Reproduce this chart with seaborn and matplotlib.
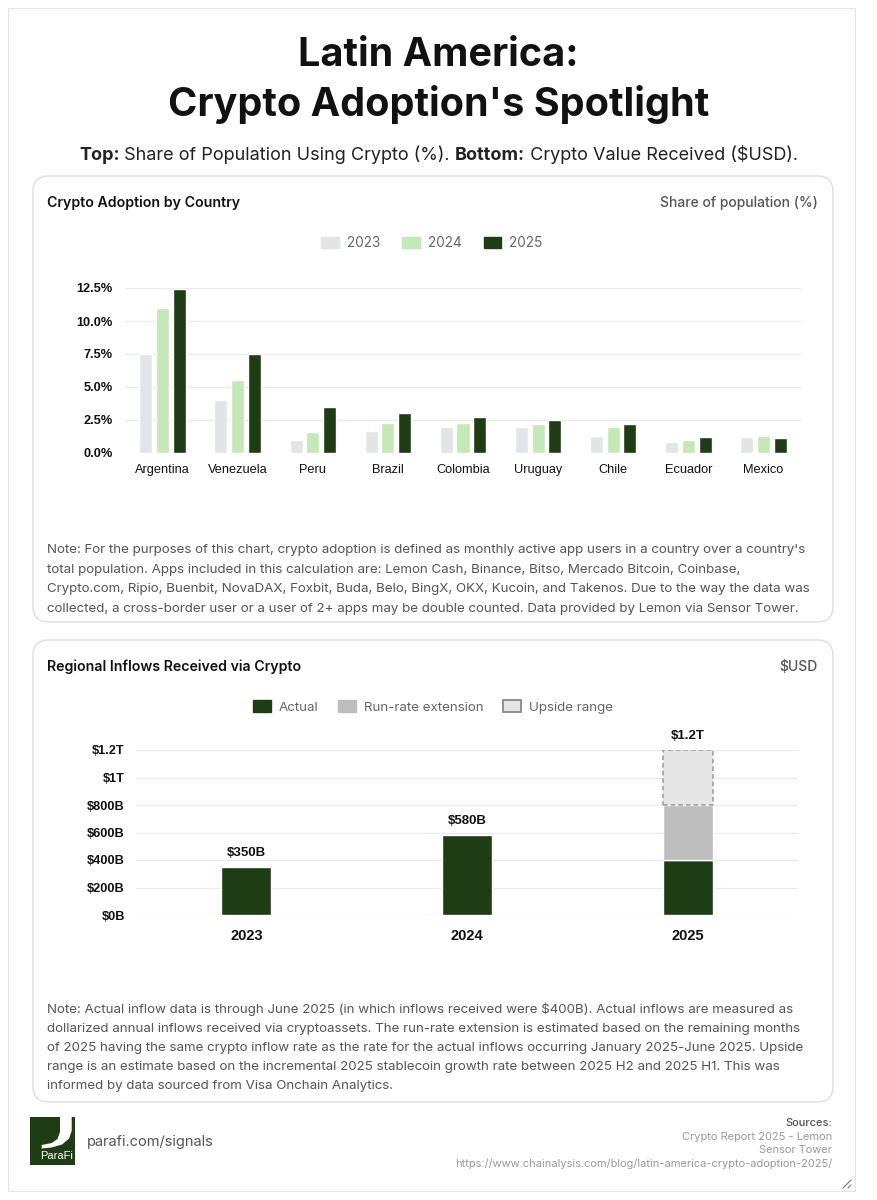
import numpy as np
import pandas as pd
import matplotlib
matplotlib.use("Agg")
import matplotlib.pyplot as plt
import seaborn as sns
from matplotlib.patches import FancyBboxPatch, Rectangle, Patch, Polygon
from matplotlib.ticker import FuncFormatter

# ---- data ----
countries = ["Argentina", "Venezuela", "Peru", "Brazil", "Colombia",
             "Uruguay", "Chile", "Ecuador", "Mexico"]
adopt_2023 = [7.5, 4.0, 1.0, 1.7, 2.0, 2.0, 1.3, 0.8, 1.2]
adopt_2024 = [11.0, 5.5, 1.6, 2.3, 2.3, 2.2, 2.0, 1.0, 1.3]
adopt_2025 = [12.4, 7.5, 3.5, 3.0, 2.7, 2.5, 2.2, 1.2, 1.1]
adopt_years = ["2023", "2024", "2025"]

inflow_years = ["2023", "2024", "2025"]
inflow_actual = [350, 580, 400]          # $B
run_rate_2025 = 400                      # $B on top of actual
upside_2025 = 400                        # $B on top of run-rate

W, H = 877, 1200
DARK = "#1f3d14"
C2023 = "#e1e5e8"
C2024 = "#c5e8b7"
RUN = "#bdbdbd"
UPS = "#e6e6e6"
GRID = "#ebebeb"
NOTE = "#555555"

sns.set_theme(style="white")
plt.rcParams["font.family"] = ["Inter", "DejaVu Sans"]


def fx(x):
    return x / W


def fy(y):
    return 1 - y / H


fig = plt.figure(figsize=(W / 100, H / 100), dpi=100)
fig.patch.set_facecolor("white")

# page border
fig.patches.append(Rectangle((fx(8), fy(1191)), fx(847), (1183) / H,
                             transform=fig.transFigure, fill=False,
                             edgecolor="#e4e4e4", lw=0.8, zorder=-2))

# cards
for top, bottom in [(176, 622), (640, 1102)]:
    card = FancyBboxPatch((fx(33), fy(bottom)), fx(800), (bottom - top) / H,
                          boxstyle="round,pad=0,rounding_size=0.018",
                          transform=fig.transFigure, facecolor="white",
                          edgecolor="#dedede", lw=1, mutation_aspect=W / H,
                          zorder=-1)
    fig.patches.append(card)

# titles
fig.text(0.5, fy(56), "Latin America:", ha="center", va="center",
         fontsize=28.5, fontweight="bold", color="#111111")
fig.text(0.5, fy(104), "Crypto Adoption's Spotlight", ha="center", va="center",
         fontsize=28.5, fontweight="bold", color="#111111")
sub_parts = [("Top:", "bold"), (" Share of Population Using Crypto (%). ", "normal"),
             ("Bottom:", "bold"), (" Crypto Value Received ($USD).", "normal")]
fig.canvas.draw()
rend = fig.canvas.get_renderer()
widths = []
tmp = []
for s, w in sub_parts:
    t = fig.text(0, 0, s, fontsize=13, fontweight=w)
    widths.append(t.get_window_extent(rend).width)
    tmp.append(t)
for t in tmp:
    t.remove()
x0 = (W - sum(widths)) / 2
for (s, w), wd in zip(sub_parts, widths):
    fig.text(fx(x0), fy(155), s, fontsize=13, fontweight=w, color="#222222",
             va="center", ha="left")
    x0 += wd

# ---- top chart ----
fig.text(fx(47), fy(203), "Crypto Adoption by Country", fontsize=10.2,
         fontweight="semibold", color="#111111", va="center")
fig.text(fx(818), fy(203), "Share of population (%)", fontsize=10,
         fontweight="medium", color="#555555", va="center", ha="right")

df = pd.DataFrame({
    "country": countries * 3,
    "year": sum([[y] * len(countries) for y in adopt_years], []),
    "value": adopt_2023 + adopt_2024 + adopt_2025,
})
pal = {"2023": C2023, "2024": C2024, "2025": DARK}

ax1 = fig.add_axes([fx(125), fy(453), fx(801 - 125), (453 - 288) / H])
ax1.set_facecolor("none")
sns.barplot(data=df, x="country", y="value", hue="year", palette=pal,
            width=0.667, gap=0.22, ax=ax1, legend=False, saturation=1)
ax1.set_ylim(0, 12.5)
ax1.set_yticks(np.arange(0, 12.6, 2.5))
ax1.yaxis.set_major_formatter(FuncFormatter(lambda v, p: f"{v:.1f}%"))
ax1.set_xlabel("")
ax1.set_ylabel("")
ax1.grid(axis="y", color=GRID, lw=1)
ax1.set_axisbelow(True)
for sp in ax1.spines.values():
    sp.set_visible(False)
ax1.tick_params(axis="both", length=0)
ax1.tick_params(axis="y", pad=9)
ax1.tick_params(axis="x", pad=8)
for lab in ax1.get_yticklabels():
    lab.set_family(["Liberation Sans", "DejaVu Sans"])
    lab.set_fontweight("bold")
    lab.set_fontsize(9.2)
    lab.set_color("#111111")
for lab in ax1.get_xticklabels():
    lab.set_family(["Liberation Sans", "DejaVu Sans"])
    lab.set_fontsize(9.2)
    lab.set_color("#111111")

h1 = [Patch(facecolor=pal[y], edgecolor=pal[y], label=y) for y in adopt_years]
fig.legend(handles=h1, loc="center", bbox_to_anchor=(fx(432), fy(243)),
           ncol=3, frameon=False, fontsize=9.8, labelcolor="#666666",
           handlelength=1.3, handleheight=0.9, columnspacing=1.6,
           handletextpad=0.6)

note1 = ("Note: For the purposes of this chart, crypto adoption is defined as monthly active app users in a country over a country's\n"
         "total population. Apps included in this calculation are: Lemon Cash, Binance, Bitso, Mercado Bitcoin, Coinbase,\n"
         "Crypto.com, Ripio, Buenbit, NovaDAX, Foxbit, Buda, Belo, BingX, OKX, Kucoin, and Takenos. Due to the way the data was\n"
         "collected, a cross-border user or a user of 2+ apps may be double counted. Data provided by Lemon via Sensor Tower.")
fig.text(fx(47), fy(544), note1, fontsize=9.6, color=NOTE, va="top",
         ha="left", linespacing=1.86)

# ---- bottom chart ----
fig.text(fx(47), fy(667), "Regional Inflows Received via Crypto", fontsize=10.2,
         fontweight="semibold", color="#111111", va="center")
fig.text(fx(818), fy(667), "$USD", fontsize=10, fontweight="medium",
         color="#555555", va="center", ha="right")

ax2 = fig.add_axes([fx(136), fy(915), fx(798 - 136), (915 - 750) / H])
ax2.set_facecolor("none")
sns.barplot(x=inflow_years, y=inflow_actual, order=inflow_years, color=DARK,
            width=0.227, ax=ax2, saturation=1)
sns.barplot(x=["2025"], y=[run_rate_2025], order=inflow_years, color=RUN,
            width=0.227, ax=ax2, saturation=1, bottom=inflow_actual[2])
sns.barplot(x=["2025"], y=[upside_2025], order=inflow_years, color=UPS,
            width=0.227, ax=ax2, saturation=1,
            bottom=inflow_actual[2] + run_rate_2025,
            edgecolor="#9a9a9a", linestyle=(0, (3, 2)), linewidth=1.1)
ax2.set_ylim(0, 1200)
ax2.set_yticks(np.arange(0, 1201, 200))


def money(v, p=None):
    if v >= 1000:
        return f"${v / 1000:g}T"
    return f"${v:g}B"


ax2.yaxis.set_major_formatter(FuncFormatter(money))
ax2.grid(axis="y", color=GRID, lw=1)
ax2.set_axisbelow(True)
for sp in ax2.spines.values():
    sp.set_visible(False)
ax2.tick_params(axis="both", length=0)
ax2.tick_params(axis="y", pad=8)
ax2.tick_params(axis="x", pad=10)
for lab in ax2.get_yticklabels():
    lab.set_family(["Liberation Sans", "DejaVu Sans"])
    lab.set_fontweight("bold")
    lab.set_fontsize(9.2)
    lab.set_color("#111111")
for lab in ax2.get_xticklabels():
    lab.set_family(["Liberation Sans", "DejaVu Sans"])
    lab.set_fontweight("bold")
    lab.set_fontsize(10.5)
    lab.set_color("#111111")

totals = [inflow_actual[0], inflow_actual[1],
          inflow_actual[2] + run_rate_2025 + upside_2025]
for i, tv in enumerate(totals):
    ax2.annotate(money(tv), (i, tv), xytext=(0, 6), textcoords="offset points",
                 ha="center", va="bottom", fontsize=9.5, fontweight="bold",
                 family=["Liberation Sans", "DejaVu Sans"], color="#111111",
                 annotation_clip=False)

h2 = [Patch(facecolor=DARK, edgecolor=DARK, label="Actual"),
      Patch(facecolor=RUN, edgecolor=RUN, label="Run-rate extension"),
      Patch(facecolor=UPS, edgecolor="#888888", lw=1.3, label="Upside range")]
fig.legend(handles=h2, loc="center", bbox_to_anchor=(fx(433), fy(707)),
           ncol=3, frameon=False, fontsize=9.6, labelcolor="#666666",
           handlelength=1.3, handleheight=0.9, columnspacing=1.5,
           handletextpad=0.6)

note2 = ("Note: Actual inflow data is through June 2025 (in which inflows received were $400B). Actual inflows are measured as\n"
         "dollarized annual inflows received via cryptoassets. The run-rate extension is estimated based on the remaining months\n"
         "of 2025 having the same crypto inflow rate as the rate for the actual inflows occurring January 2025-June 2025. Upside\n"
         "range is an estimate based on the incremental 2025 stablecoin growth rate between 2025 H2 and 2025 H1. This was\n"
         "informed by data sourced from Visa Onchain Analytics.")
fig.text(fx(47), fy(1003), note2, fontsize=9.6, color=NOTE, va="top",
         ha="left", linespacing=1.77)

# ---- footer ----
fig.patches.append(Rectangle((fx(30), fy(1165)), fx(45), 48 / H,
                             transform=fig.transFigure, facecolor=DARK,
                             edgecolor="none"))
logo = [(60, 1117), (71.7, 1117), (71.7, 1131), (69, 1138.7), (62, 1144.5),
        (51.7, 1147.5), (41.7, 1148.5), (41.7, 1145), (51.7, 1143),
        (57.5, 1139), (60, 1132)]
fig.patches.append(Polygon([(fx(a), fy(b)) for a, b in logo], closed=True,
                           transform=fig.transFigure, facecolor="white",
                           edgecolor="none"))
fig.text(fx(73), fy(1156), "ParaFi", fontsize=8, color="white",
         va="center", ha="right", family=["Liberation Sans", "DejaVu Sans"])
fig.text(fx(87), fy(1142), "parafi.com/signals", fontsize=10.5, color="#555555",
         va="center", ha="left")

src = ["Sources:", "Crypto Report 2025 - Lemon", "Sensor Tower",
       "https://www.chainalysis.com/blog/latin-america-crypto-adoption-2025/"]
for i, s in enumerate(src):
    fig.text(fx(832), fy(1123 + i * 13.7), s, fontsize=7.95,
             color="#555555" if i == 0 else "#999999",
             fontweight="medium" if i == 0 else "normal",
             va="center", ha="right")

# resize handle
for d in (0, 5):
    fig.add_artist(plt.Line2D([fx(843 + d), fx(851)], [fy(1188), fy(1180 + d)],
                              transform=fig.transFigure, color="#777777", lw=0.8))

fig.savefig("out.png", dpi=100, facecolor="white")
